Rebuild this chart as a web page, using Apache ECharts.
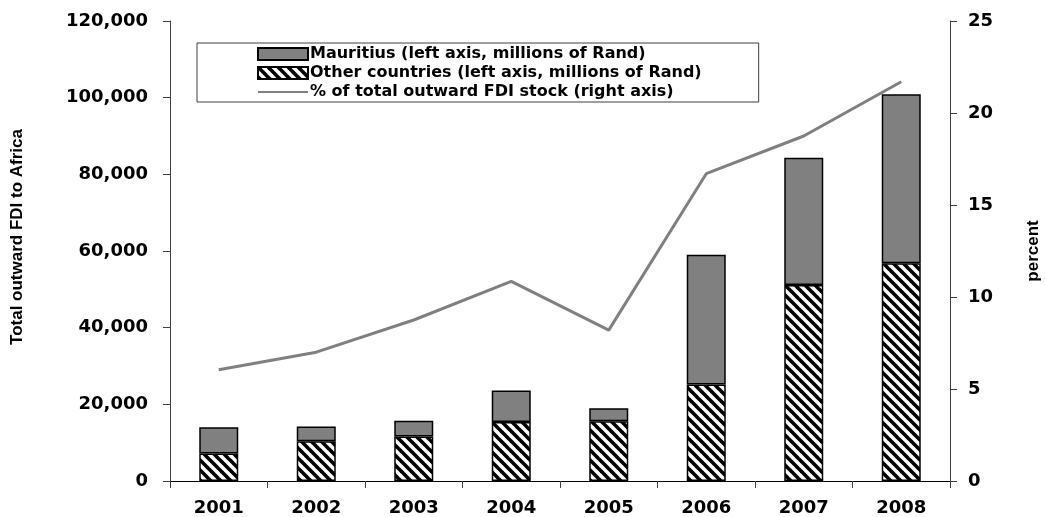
<!DOCTYPE html>
<html>
<head>
<meta charset="utf-8">
<script src="https://cdn.jsdelivr.net/npm/echarts@6/dist/echarts.min.js"></script>
<style>
  html, body { margin: 0; padding: 0; background: #fff; }
  #chart { width: 1045px; height: 517px; }
</style>
</head>
<body>
<div id="chart"></div>
<script>
var years = ["2001", "2002", "2003", "2004", "2005", "2006", "2007", "2008"];
var mauritius = [6800, 3800, 4100, 8200, 3400, 33800, 33200, 44100];
var otherCountries = [7200, 10400, 11600, 15400, 15600, 25200, 51100, 56800];
var fdiShare = [6.05, 7.0, 8.75, 10.85, 8.2, 16.7, 18.75, 21.7];
var leftTicks = { min: 0, max: 120000, interval: 20000 };
var rightTicks = { min: 0, max: 25, interval: 5 };

var nameMauritius = "Mauritius (left axis, millions of Rand)";
var nameOther = "Other countries (left axis, millions of Rand)";
var nameShare = "% of total outward FDI stock (right axis)";

// diagonal hatch "\\\" for the other-countries bars
function makeHatch() {
  var c = document.createElement("canvas");
  c.width = 10;
  c.height = 10;
  var ctx = c.getContext("2d");
  ctx.fillStyle = "#fff";
  ctx.fillRect(0, 0, 10, 10);
  ctx.strokeStyle = "#000";
  ctx.lineWidth = 3.6;
  for (var k = -1; k <= 1; k++) {
    ctx.beginPath();
    ctx.moveTo(k * 10 - 2, -2);
    ctx.lineTo(k * 10 + 12, 12);
    ctx.stroke();
  }
  return c;
}

var tickFont = { fontFamily: "DejaVu Sans", fontWeight: "bold", fontSize: 18, color: "#000" };
var titleFont = { fontFamily: "Liberation Sans", fontWeight: "bold", fontSize: 17, color: "#000" };
var axisColor = "#404040";

var chart = echarts.init(document.getElementById("chart"), null, { renderer: "canvas" });
chart.setOption({
  animation: false,
  backgroundColor: "#fff",
  grid: { left: 170, right: 95, top: 21, bottom: 36, outerBoundsMode: "none", containLabel: false },
  legend: {
    orient: "vertical",
    left: 197,
    top: 43,
    padding: [3, 57, 2, 60],
    itemGap: 3,
    itemWidth: 50,
    itemHeight: 12,
    borderColor: "#404040",
    borderWidth: 1,
    data: [
      { name: nameMauritius, icon: "rect" },
      { name: nameOther, icon: "rect" },
      { name: nameShare, itemStyle: { opacity: 0 } }
    ],
    textStyle: { fontFamily: "DejaVu Sans", fontWeight: "bold", fontSize: 16, color: "#000", padding: [0, 0, 0, -3] }
  },
  xAxis: {
    type: "category",
    data: years,
    axisLine: { lineStyle: { color: "#000", width: 1 } },
    axisTick: { show: true, length: 7, lineStyle: { color: axisColor } },
    axisLabel: Object.assign({ margin: 18 }, tickFont)
  },
  yAxis: [
    {
      type: "value",
      min: leftTicks.min,
      max: leftTicks.max,
      interval: leftTicks.interval,
      name: "Total outward FDI to Africa",
      nameLocation: "middle",
      nameGap: 144,
      nameTextStyle: Object.assign({ padding: [0, 0, 0, 28] }, titleFont),
      axisLine: { show: true, lineStyle: { color: axisColor } },
      axisTick: { show: true, length: 7, lineStyle: { color: axisColor } },
      splitLine: { show: false },
      axisLabel: Object.assign({
        margin: 22,
        formatter: function (v) { return v.toLocaleString("en-US"); }
      }, tickFont)
    },
    {
      type: "value",
      position: "right",
      min: rightTicks.min,
      max: rightTicks.max,
      interval: rightTicks.interval,
      name: "percent",
      nameLocation: "middle",
      nameGap: 75,
      nameRotate: 90,
      nameTextStyle: titleFont,
      axisLine: { show: true, lineStyle: { color: axisColor } },
      axisTick: { show: true, length: 7, lineStyle: { color: axisColor } },
      splitLine: { show: false },
      axisLabel: Object.assign({ margin: 18 }, tickFont)
    }
  ],
  series: [
    {
      name: nameOther,
      type: "bar",
      stack: "fdi",
      barWidth: 39,
      data: otherCountries,
      itemStyle: {
        color: { image: makeHatch(), repeat: "repeat" },
        borderColor: "#000",
        borderWidth: 1.5
      }
    },
    {
      name: nameMauritius,
      type: "bar",
      stack: "fdi",
      barWidth: 39,
      data: mauritius,
      itemStyle: { color: "#808080", borderColor: "#000", borderWidth: 1.5 }
    },
    {
      name: nameShare,
      type: "line",
      yAxisIndex: 1,
      data: fdiShare,
      symbol: "none",
      lineStyle: { color: "#808080", width: 3 },
      itemStyle: { color: "#808080" }
    }
  ]
});
</script>
</body>
</html>
